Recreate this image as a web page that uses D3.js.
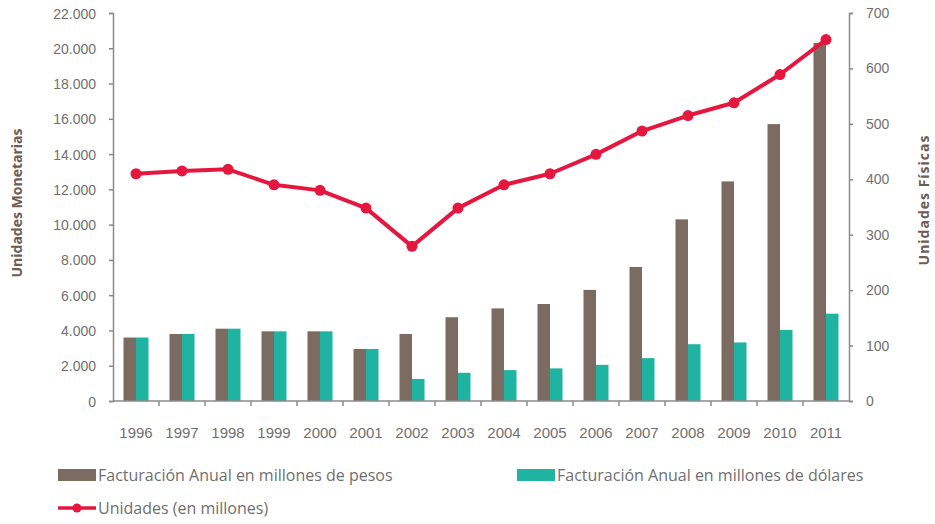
<!DOCTYPE html>
<html>
<head>
<meta charset="utf-8">
<script src="https://cdn.jsdelivr.net/npm/d3@7"></script>
<style>
  html, body { margin: 0; padding: 0; background: #fff; }
  svg { display: block; font-family: "Open Sans", sans-serif; }
  .axis path, .axis line { stroke: #8a8a8a; stroke-width: 1.5; }
  .axis text { fill: #6f6f6f; font-size: 14px; }
  .xaxis text { font-size: 15px; }
  .legend text { fill: #6f6f6f; font-size: 16px; }
  .title { fill: #6e5d55; font-size: 14px; font-weight: bold; }
</style>
</head>
<body>
<svg id="chart" width="935" height="524"></svg>
<script>
// --- Data ------------------------------------------------------------
const years = ["1996", "1997", "1998", "1999", "2000", "2001", "2002", "2003",
  "2004", "2005", "2006", "2007", "2008", "2009", "2010", "2011"];
// Facturación anual, millones de pesos
const pesos = [3600, 3800, 4100, 3950, 3950, 2950, 3800, 4750,
  5250, 5500, 6300, 7600, 10300, 12450, 15700, 20300];
// Facturación anual, millones de dólares
const dolares = [3600, 3800, 4100, 3950, 3950, 2950, 1250, 1600,
  1750, 1850, 2050, 2430, 3220, 3320, 4030, 4950];
// Unidades (en millones)
const unidades = [410, 415, 418, 390, 380, 348, 279, 348,
  390, 410, 445, 487, 515, 538, 589, 652];
const leftTicks = [0, 2000, 4000, 6000, 8000, 10000, 12000, 14000, 16000, 18000, 20000, 22000];
const rightTicks = [0, 100, 200, 300, 400, 500, 600, 700];

const colPesos = "#7b6b61";
const colDolares = "#1fb3a2";
const colLine = "#e5173f";

// --- Scales ----------------------------------------------------------
const svg = d3.select("#chart");
const mLeft = 113, mRight = 849, mTop = 13, mBottom = 401;

const x = d3.scaleBand().domain(years).range([mLeft, mRight]).padding(0);
const xs = d3.scaleBand().domain(["pesos", "dolares"])
  .range([0, x.bandwidth()]).paddingInner(0).paddingOuter(0.84);
const yL = d3.scaleLinear().domain([0, 22000]).range([mBottom, mTop]);
const yR = d3.scaleLinear().domain([0, 700]).range([mBottom, mTop]);

// --- Bars ------------------------------------------------------------
const groups = svg.append("g").selectAll("g").data(years)
  .enter().append("g")
  .attr("transform", (d) => `translate(${x(d)},0)`);

groups.append("rect")
  .attr("x", xs("pesos")).attr("width", xs.bandwidth())
  .attr("y", (d, i) => yL(pesos[i]))
  .attr("height", (d, i) => mBottom - yL(pesos[i]))
  .attr("fill", colPesos);

groups.append("rect")
  .attr("x", xs("dolares")).attr("width", xs.bandwidth())
  .attr("y", (d, i) => yL(dolares[i]))
  .attr("height", (d, i) => mBottom - yL(dolares[i]))
  .attr("fill", colDolares);

// --- Axes ------------------------------------------------------------
const fmt = (v) => d3.format(",")(v).replace(/,/g, ".");

svg.append("g").attr("class", "axis")
  .attr("transform", `translate(${mLeft},0)`)
  .call(d3.axisLeft(yL).tickValues(leftTicks).tickFormat(fmt).tickSize(4).tickSizeOuter(4).tickPadding(13))
  .call((g) => g.selectAll("text").attr("dy", "0.36em"));

svg.append("g").attr("class", "axis")
  .attr("transform", `translate(${mRight},0)`)
  .call(d3.axisRight(yR).tickValues(rightTicks).tickSize(4).tickSizeOuter(4).tickPadding(13));

const xAxis = svg.append("g").attr("class", "axis xaxis")
  .attr("transform", `translate(0,${mBottom})`)
  .call(d3.axisBottom(x).tickSize(0).tickSizeOuter(0).tickPadding(26));
xAxis.select(".domain").attr("d", `M${mLeft},0H${mRight}`);
xAxis.selectAll(".bound").data(years.slice(1))
  .enter().append("line").attr("class", "bound")
  .attr("x1", (d) => x(d)).attr("x2", (d) => x(d))
  .attr("y1", 0).attr("y2", 5);

// --- Line ------------------------------------------------------------
const cx = (d) => x(d) + x.bandwidth() / 2;
const line = d3.line().x((d, i) => cx(years[i])).y((d) => yR(d));

svg.append("path").datum(unidades)
  .attr("d", line)
  .attr("fill", "none").attr("stroke", colLine).attr("stroke-width", 4)
  .attr("stroke-linejoin", "round");

svg.append("g").selectAll("circle").data(unidades)
  .enter().append("circle")
  .attr("cx", (d, i) => cx(years[i])).attr("cy", (d) => yR(d))
  .attr("r", 5.5).attr("fill", colLine);

// --- Axis titles -----------------------------------------------------
svg.append("text").attr("class", "title")
  .attr("transform", "translate(22,203) rotate(-90)")
  .attr("text-anchor", "middle").text("Unidades Monetarias");
svg.append("text").attr("class", "title")
  .attr("transform", "translate(929,200) rotate(-90)")
  .attr("text-anchor", "middle").attr("letter-spacing", 1)
  .text("Unidades Físicas");

// --- Legend ----------------------------------------------------------
const legend = svg.append("g").attr("class", "legend");
const legendItems = [
  { label: "Facturación Anual en millones de pesos", color: colPesos, x: 58, y: 475, type: "rect" },
  { label: "Facturación Anual en millones de dólares", color: colDolares, x: 517, y: 475, type: "rect" },
  { label: "Unidades (en millones)", color: colLine, x: 58, y: 508, type: "line" },
];
const li = legend.selectAll("g").data(legendItems).enter().append("g")
  .attr("transform", (d) => `translate(${d.x},${d.y})`);
li.filter((d) => d.type === "rect").append("rect")
  .attr("x", 0).attr("y", -6).attr("width", 38).attr("height", 12)
  .attr("fill", (d) => d.color);
li.filter((d) => d.type === "line").append("line")
  .attr("x1", 0).attr("x2", 38).attr("y1", 0).attr("y2", 0)
  .attr("stroke", (d) => d.color).attr("stroke-width", 3.5);
li.filter((d) => d.type === "line").append("circle")
  .attr("cx", 19).attr("cy", 0).attr("r", 4.5).attr("fill", (d) => d.color);
li.append("text").attr("x", 40).attr("y", 0).attr("dy", "0.36em")
  .text((d) => d.label);
</script>
</body>
</html>
